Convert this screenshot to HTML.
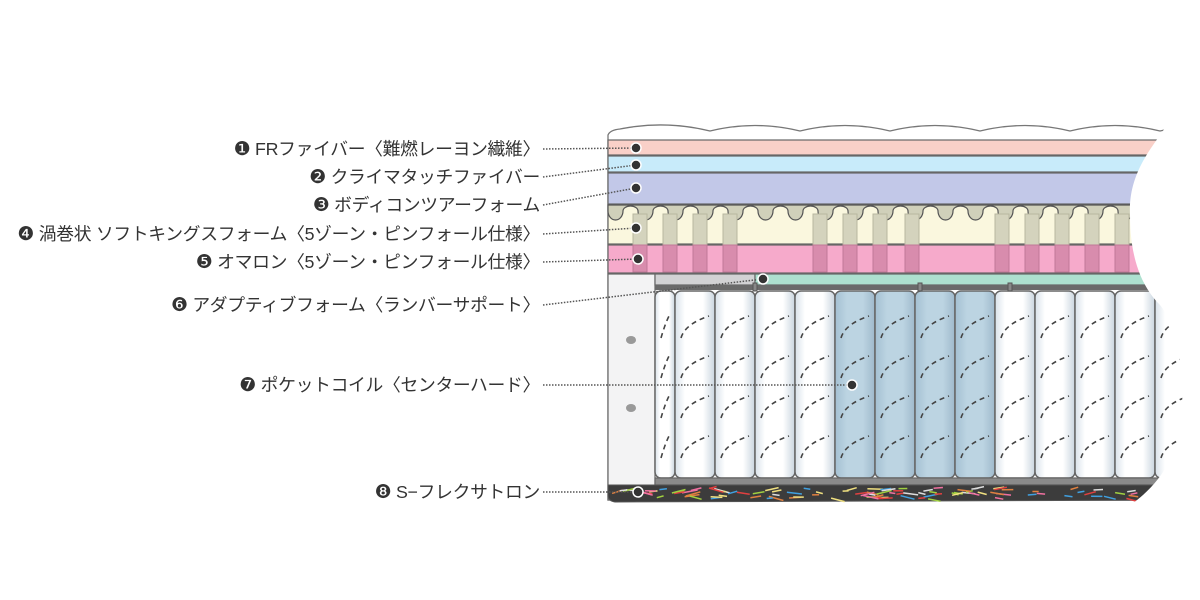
<!DOCTYPE html>
<html><head><meta charset="utf-8"><style>
html,body{margin:0;padding:0;background:#fff;width:1200px;height:600px;overflow:hidden}
.lb{position:absolute;right:660px;font:17.8px "Liberation Sans","Noto Sans CJK JP",sans-serif;color:#333;white-space:nowrap;line-height:20px;letter-spacing:-0.3px}
.lb b{font-family:"DejaVu Sans",sans-serif;font-weight:normal;font-size:19px}
</style></head><body>
<svg id="s" width="1200" height="600" style="position:absolute;left:0;top:0" xmlns="http://www.w3.org/2000/svg">
<defs>
<linearGradient id="cw" x1="0" x2="1"><stop offset="0" stop-color="#d8e2ea"/><stop offset=".25" stop-color="#fff"/><stop offset=".7" stop-color="#fff"/><stop offset="1" stop-color="#c9d5df"/></linearGradient>
<linearGradient id="cb" x1="0" x2="1"><stop offset="0" stop-color="#a4c0d2"/><stop offset=".3" stop-color="#bcd4e2"/><stop offset=".7" stop-color="#bcd4e2"/><stop offset="1" stop-color="#9fb9cb"/></linearGradient>
</defs>
<g id="m"></g>
</svg>
<div class="lb" style="top:139px"><b>❶</b> FRファイバー〈難燃レーヨン繊維〉</div>
<div class="lb" style="top:167px"><b>❷</b> クライマタッチファイバー</div>
<div class="lb" style="top:195px"><b>❸</b> ボディコンツアーフォーム</div>
<div class="lb" style="top:224px"><b>❹</b> 渦巻状 ソフトキングスフォーム〈5ゾーン・ピンフォール仕様〉</div>
<div class="lb" style="top:252px"><b>❺</b> オマロン〈5ゾーン・ピンフォール仕様〉</div>
<div class="lb" style="top:295px"><b>❻</b> アダプティブフォーム〈ランバーサポート〉</div>
<div class="lb" style="top:375px"><b>❼</b> ポケットコイル〈センターハード〉</div>
<div class="lb" style="top:482px"><b>❽</b> S−フレクサトロン</div>
<script>
var g=document.getElementById('m'),h='';
function r(x,y,w,hh,f,st){h+='<rect x="'+x+'" y="'+y+'" width="'+w+'" height="'+hh+'" fill="'+f+'" '+(st||'')+'/>';}
var S='stroke="#666" stroke-width="1.2"';
var p='M608,500 L608,135 Q610,130 620,129';
for(var x=620;x<1200;x+=90){p+=' Q'+(x+45)+',120 '+(x+90)+',131';}
p+=' L1200,140 L1200,500 Z';
h+='<path d="'+p+'" fill="#fff" stroke="#777" stroke-width="1.3"/>';
r(608,140,600,15,'#f9d0c8',S);
r(608,156,600,16,'#c8ebfa',S);
r(608,173,600,31,'#c2c8e8',S);
r(608,205,600,39,'#faf7de',S);
var w='M608,205 L608,211';
for(var x=608;x<1200;x+=30){w+=' A7.5,9 0 0 0 '+(x+15)+',211 A7.5,5 0 0 1 '+(x+30)+',211';}
w+=' L1200,205 Z';
h+='<path d="'+w+'" fill="#d0d0ba" stroke="#555" stroke-width="1.2"/>';
r(608,245,600,28,'#f6aacb',S);
var posts=[640,670,700,730,820,850,880,912,1002,1032,1062,1092,1122];
posts.forEach(function(c){r(c-7,214,14,31,'#d4d3bd','stroke="#b8b7a0" stroke-width="1"');r(c-7,245,14,27,'#d88cad','stroke="#c07898" stroke-width="1"');});
r(608,274,47,226,'#f3f3f4',S);
r(655,274,100,11,'#d2d2d4',S);
r(755,274,450,11,'#ade0cf',S);
r(655,285,550,5,'#6a6a6a');
var xs=[[655,20]];for(var x=675;x<1200;x+=40)xs.push([x,40]);
xs.forEach(function(c,i){var blue=(c[0]>=835&&c[0]<995);
 h+='<rect x="'+c[0]+'" y="291" width="'+c[1]+'" height="187" rx="6" fill="url(#'+(blue?'cb':'cw')+')" stroke="#666" stroke-width="1.5"/>';
 for(var k=0;k<4;k++){var y0=330+k*40,x0=c[0]+6,x1=c[0]+c[1]-6;
  h+='<path d="M'+x0+','+(y0+8)+' Q'+(x0+4)+','+(y0-6)+' '+x1+','+(y0-14)+'" fill="none" stroke="#444" stroke-width="1.6" stroke-dasharray="5,4"/>';}
});
[755,920,1010,1155].forEach(function(x){r(x-2,283,4,8,'#888','stroke="#555"');});
r(655,478,550,7,'#8a8a8a',S);
h+='<path d="M608,485 L1200,485 L1200,500 L615,502 Q608,501 608,495 Z" fill="#3c3c3c" stroke="#555"/>';
var cols=['#e04040','#40a0e0','#a0d040','#f0e080','#e08040','#ddd','#f070a0'];
var sd=7;function rnd(){sd=(sd*9301+49297)%233280;return sd/233280;}
for(var i=0;i<110;i++){var x=612+rnd()*580,y=488+rnd()*11,l=6+rnd()*10,a=(rnd()-.5)*0.6;
 h+='<line x1="'+x.toFixed(1)+'" y1="'+y.toFixed(1)+'" x2="'+(x+l).toFixed(1)+'" y2="'+(y+l*a).toFixed(1)+'" stroke="'+cols[i%7]+'" stroke-width="1.5"/>';}
[340,408].forEach(function(y){h+='<ellipse cx="631" cy="'+y+'" rx="5" ry="4" fill="#999"/>';});
h+='<path d="M1168,120 L1165,128 C1150,150 1128,175 1130,215 C1130,255 1140,285 1160,305 C1185,335 1190,420 1170,460 C1160,480 1145,495 1130,505 L1200,505 L1200,120 Z" fill="#fff"/>';
var L=[[543,149,636,148],[543,177,636,165],[543,205,636,188],[543,234,636,228],[543,262,638,259],[543,305,763,279],[543,385,852,385],[543,492,638,492]];
L.forEach(function(a){h+='<line x1="'+a[0]+'" y1="'+a[1]+'" x2="'+a[2]+'" y2="'+a[3]+'" stroke="#555" stroke-width="1.5" stroke-dasharray="1.5,1.5"/>';
 h+='<circle cx="'+a[2]+'" cy="'+a[3]+'" r="5" fill="#333" stroke="#fff" stroke-width="1.5"/>';});
g.innerHTML=h;
</script>
</body></html>
